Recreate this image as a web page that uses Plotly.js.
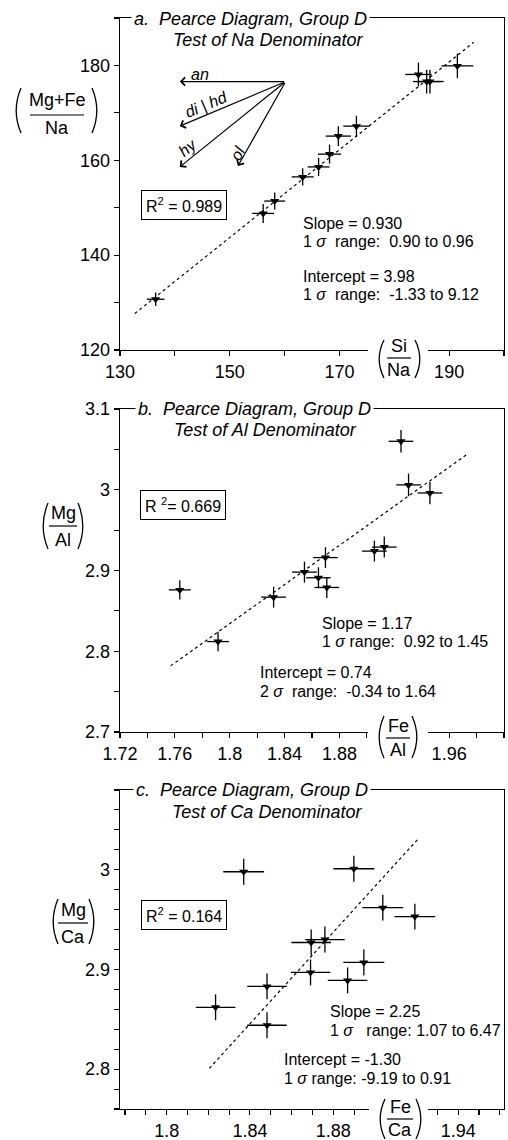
<!DOCTYPE html>
<html><head><meta charset="utf-8">
<script src="https://cdn.plot.ly/plotly-3.0.1.min.js"></script>
<style>html,body{margin:0;padding:0;background:#fff}</style>
</head><body><div id="chart" style="width:508px;height:1140px"></div>
<script>
// ---------- Panel a: Test of Na denominator ----------
const aSiNa      = [136.5,156.1,158.2,163.3,166.2,168.2,169.8,173.1,184.4,185.9,186.5,191.5];
const aMgFeNa    = [130.7,148.8,151.4,156.5,158.6,161.3,165.1,167.2,178.1,176.6,176.6,179.9];
const aSiNaErr   = [1.6,2.0,1.9,2.0,2.0,2.1,2.3,2.4,2.4,2.5,2.5,2.9];
const aMgFeNaErr = [1.4,2.0,1.8,1.8,1.9,2.0,2.1,2.2,2.5,2.5,2.5,2.6];
const aFitX = [132.7,194.5];
const aFitY = [127.7,184.9];
const aVecLabels = ['an','di | hd','hy','ol'];
const aVecTailX = [160.2,160.2,160.2,160.2];
const aVecTailY = [176.6,176.6,176.6,176.6];
const aVecHeadX = [140.9,140.9,140.9,151.5];
const aVecHeadY = [176.6,167.2,158.6,158.8];
const aXTickVals = [130,140,150,160,170,180,190,200];
const aXTickText = ['130','','150','','170','','190',''];
const aYTickVals = [120,130,140,150,160,170,180,190];
const aYTickText = ['120','','140','','160','','180',''];

// ---------- Panel b: Test of Al denominator ----------
const bFeAl    = [1.7636,1.7915,1.8320,1.8545,1.8647,1.8698,1.8708,1.9055,1.9127,1.9249,1.9304,1.9460];
const bMgAl    = [2.876,2.812,2.867,2.898,2.891,2.916,2.879,2.924,2.929,3.060,3.006,2.996];
const bFeAlErr = [0.008,0.008,0.009,0.009,0.009,0.009,0.009,0.009,0.009,0.009,0.009,0.009];
const bMgAlErr = [0.012,0.012,0.013,0.013,0.013,0.013,0.013,0.013,0.013,0.014,0.014,0.014];
const bFitX = [1.7569,1.9733];
const bFitY = [2.7819,3.0442];
const bXTickVals = [1.72,1.74,1.76,1.78,1.80,1.82,1.84,1.86,1.88,1.90,1.92,1.94,1.96,1.98,2.00];
const bXTickText = ['1.72','','1.76','','1.8','','1.84','','1.88','','','','1.96','','2'];
const bYTickVals = [2.7,2.75,2.8,2.85,2.9,2.95,3.0,3.05,3.1];
const bYTickText = ['2.7','','2.8','','2.9','','3','','3.1'];

// ---------- Panel c: Test of Ca denominator ----------
const cFeCa    = [1.8235,1.8370,1.8482,1.8482,1.8694,1.8691,1.8760,1.8869,1.8899,1.8947,1.9038,1.9192];
const cMgCa    = [2.862,2.998,2.883,2.844,2.927,2.897,2.930,2.889,3.001,2.907,2.962,2.953];
const cFeCaErr = [0.0095,0.0098,0.0095,0.0095,0.0095,0.0095,0.0095,0.0095,0.0098,0.0098,0.0098,0.0098];
const cMgCaErr = [0.013,0.013,0.013,0.013,0.013,0.013,0.013,0.013,0.013,0.013,0.013,0.013];
const cFitX = [1.8205,1.9208];
const cFitY = [2.8007,3.031];
const cXTickVals = [1.78,1.79,1.80,1.81,1.82,1.83,1.84,1.85,1.86,1.87,1.88,1.89,1.90,1.91,1.92,1.93,1.94,1.95,1.96];
const cXTickText = ['','','1.8','','','','1.84','','','','1.88','','','','','','1.94','',''];
const cYTickVals = [2.76,2.78,2.80,2.82,2.84,2.86,2.88,2.90,2.92,2.94,2.96,2.98,3.00,3.02,3.04,3.06,3.08];
const cYTickText = ['','','2.8','','','','','2.9','','','','','3','','','',''];

// ---------- layout helpers ----------
const W = 508, H = 1140;
const F = 'Liberation Sans, Arial, Helvetica, sans-serif';
const PX = x => x / W, PY = y => 1 - y / H;

function axis(range, dom, tv, tt, anchor) {
  return {
    range: range, domain: dom, anchor: anchor, autorange: false,
    tickmode: 'array', tickvals: tv, ticktext: tt,
    showline: true, linecolor: '#000', linewidth: 1.3, mirror: true,
    ticks: 'outside', ticklen: 5, tickwidth: 1.1, tickcolor: '#000',
    showgrid: false, zeroline: false, fixedrange: true,
    tickfont: {family: F, size: 18, color: '#000'}
  };
}

function pts(x, y, ex, ey, xa, ya) {
  return {
    type: 'scatter', mode: 'markers', x: x, y: y, xaxis: xa, yaxis: ya,
    marker: {symbol: 'triangle-down', size: 8, color: '#000'},
    error_x: {type: 'data', array: ex, visible: true, width: 0, thickness: 1.3, color: '#000'},
    error_y: {type: 'data', array: ey, visible: true, width: 0, thickness: 1.3, color: '#000'},
    showlegend: false, hoverinfo: 'skip'
  };
}
function fit(x, y, xa, ya) {
  return {type: 'scatter', mode: 'lines', x: x, y: y, xaxis: xa, yaxis: ya,
    line: {color: '#000', width: 1.2, dash: '3px,3px'}, showlegend: false, hoverinfo: 'skip'};
}

const annotations = [];
const shapes = [];
function txt(text, x, y, o) {
  annotations.push(Object.assign({xref: 'paper', yref: 'paper', x: PX(x), y: PY(y), text: text,
    showarrow: false, xanchor: 'left', yanchor: 'middle',
    font: {family: F, size: 16, color: '#000'}}, o || {}));
}
function paren(xOuter, xInner, top, bot) {
  const mid = (top + bot) / 2;
  shapes.push({type: 'path', xref: 'paper', yref: 'paper', layer: 'above',
    path: 'M' + PX(xInner) + ',' + PY(top) + ' Q' + PX(xOuter - (xInner - xOuter) * 0.6) + ',' + PY(mid) +
          ' ' + PX(xInner) + ',' + PY(bot),
    line: {color: '#000', width: 1.3}});
}
function fraction(num, den, cx, numY, barY, denY, barHalf, lp, rp, top, bot, cover) {
  if (cover) {
    shapes.push({type: 'rect', xref: 'paper', yref: 'paper', layer: 'above',
      x0: PX(cover[0]), x1: PX(cover[1]), y0: PY(cover[2]), y1: PY(cover[3]),
      fillcolor: '#fff', line: {width: 0}});
  }
  txt(num, cx, numY, {xanchor: 'center', font: {family: F, size: 18, color: '#000'}});
  txt(den, cx, denY, {xanchor: 'center', font: {family: F, size: 18, color: '#000'}});
  shapes.push({type: 'line', xref: 'paper', yref: 'paper', layer: 'above',
    x0: PX(cx - barHalf), x1: PX(cx + barHalf), y0: PY(barY), y1: PY(barY),
    line: {color: '#000', width: 1.2}});
  paren(lp[0], lp[1], top, bot);
  paren(rp[0], rp[1], top, bot);
}
function title(line1, x1, y1, line2, x2, y2) {
  txt('<i>' + line1 + '</i>', x1, y1, {bgcolor: '#fff', borderpad: 2,
    font: {family: F, size: 18, color: '#000'}});
  txt('<i>' + line2 + '</i>', x2, y2, {xanchor: 'center', font: {family: F, size: 18, color: '#000'}});
}
function rbox(text, cx, cy) {
  txt(text, cx, cy, {xanchor: 'center', bgcolor: '#fff', bordercolor: '#000', borderwidth: 1, borderpad: 4});
}

const S = '\u00a0';
// Panel a texts
title('a.' + S + S + 'Pearce Diagram, Group D', 131, 19, 'Test of Na Denominator', 268, 40);
rbox('R<sup>2</sup> = 0.989', 184, 205);
txt('Slope = 0.930', 301, 223);
txt('1 <i>σ</i>' + S + ' range:' + S + ' 0.90 to 0.96', 301, 241);
txt('Intercept = 3.98', 301, 276);
txt('1 <i>σ</i>' + S + ' range:' + S + ' -1.33 to 9.12', 301, 294);
fraction('Mg+Fe', 'Na', 57, 100, 115, 128, 27, [15, 21], [98, 92], 88, 133);
fraction('Si', 'Na', 399, 346, 358, 370, 12, [378, 384], [421, 415], 340, 378, [368, 428, 343, 357]);

// vectors in panel a
const vecLabelPos = [[200, 75, 0], [206, 104, -23], [188, 148, -40], [238, 154, -62]];
for (let i = 0; i < aVecLabels.length; i++) {
  annotations.push({xref: 'x', yref: 'y', axref: 'x', ayref: 'y',
    x: aVecHeadX[i], y: aVecHeadY[i], ax: aVecTailX[i], ay: aVecTailY[i], text: '',
    showarrow: true, arrowhead: 4, arrowsize: 1.3, arrowwidth: 1.2, arrowcolor: '#000', standoff: 0});
  txt('<i>' + aVecLabels[i] + '</i>', vecLabelPos[i][0], vecLabelPos[i][1],
    {xanchor: 'center', textangle: vecLabelPos[i][2], font: {family: F, size: 16, color: '#000'}});
}

// Panel b texts
title('b.' + S + S + 'Pearce Diagram, Group D', 135, 409, 'Test of Al Denominator', 265, 430);
rbox('R <sup>2</sup>= 0.669', 183, 505);
txt('Slope = 1.17', 320, 623);
txt('1 <i>σ</i>' + S + 'range:' + S + ' 0.92 to 1.45', 320, 641);
txt('Intercept = 0.74', 258, 673);
txt('2 <i>σ</i>' + S + ' range:' + S + ' -0.34 to 1.64', 258, 691);
fraction('Mg', 'Al', 63, 513, 526, 540, 14, [42, 48], [84, 78], 503, 549);
fraction('Fe', 'Al', 398, 726, 738, 750, 12, [378, 384], [418, 412], 716, 758, [368, 428, 726, 740]);

// Panel c texts
title('c.' + S + S + 'Pearce Diagram, Group D', 133, 790, 'Test of Ca Denominator', 267, 812);
rbox('R<sup>2</sup> = 0.164', 184, 915);
txt('Slope = 2.25', 328, 1011);
txt('1 <i>σ</i>' + S + S + ' range: 1.07 to 6.47', 328, 1030);
txt('Intercept = -1.30', 282, 1059);
txt('1 <i>σ</i>' + S + 'range: -9.19 to 0.91', 282, 1078);
fraction('Mg', 'Ca', 73, 910, 923, 937, 15, [52, 58], [95, 89], 899, 944);
fraction('Fe', 'Ca', 400, 1107, 1119, 1130, 13, [379, 385], [422, 416], 1099, 1139, [369, 428, 1102, 1116]);

const xd = [PX(120), PX(504)];
const layout = {
  width: W, height: H, margin: {l: 0, r: 0, t: 0, b: 0, pad: 0},
  paper_bgcolor: '#fff', plot_bgcolor: '#fff', showlegend: false,
  xaxis:  axis([130, 200], xd, aXTickVals, aXTickText, 'y'),
  yaxis:  axis([120, 190], [PY(350), PY(18)], aYTickVals, aYTickText, 'x'),
  xaxis2: axis([1.72, 2.0], xd, bXTickVals, bXTickText, 'y2'),
  yaxis2: axis([2.7, 3.1], [PY(732), PY(409)], bYTickVals, bYTickText, 'x2'),
  xaxis3: axis([1.7776, 1.962], xd, cXTickVals, cXTickText, 'y3'),
  yaxis3: axis([2.76, 3.08], [PY(1109), PY(790)], cYTickVals, cYTickText, 'x3'),
  annotations: annotations, shapes: shapes
};
const data = [
  fit(aFitX, aFitY, 'x', 'y'), pts(aSiNa, aMgFeNa, aSiNaErr, aMgFeNaErr, 'x', 'y'),
  fit(bFitX, bFitY, 'x2', 'y2'), pts(bFeAl, bMgAl, bFeAlErr, bMgAlErr, 'x2', 'y2'),
  fit(cFitX, cFitY, 'x3', 'y3'), pts(cFeCa, cMgCa, cFeCaErr, cMgCaErr, 'x3', 'y3')
];
Plotly.newPlot('chart', data, layout, {staticPlot: true, displayModeBar: false});
</script></body></html>
